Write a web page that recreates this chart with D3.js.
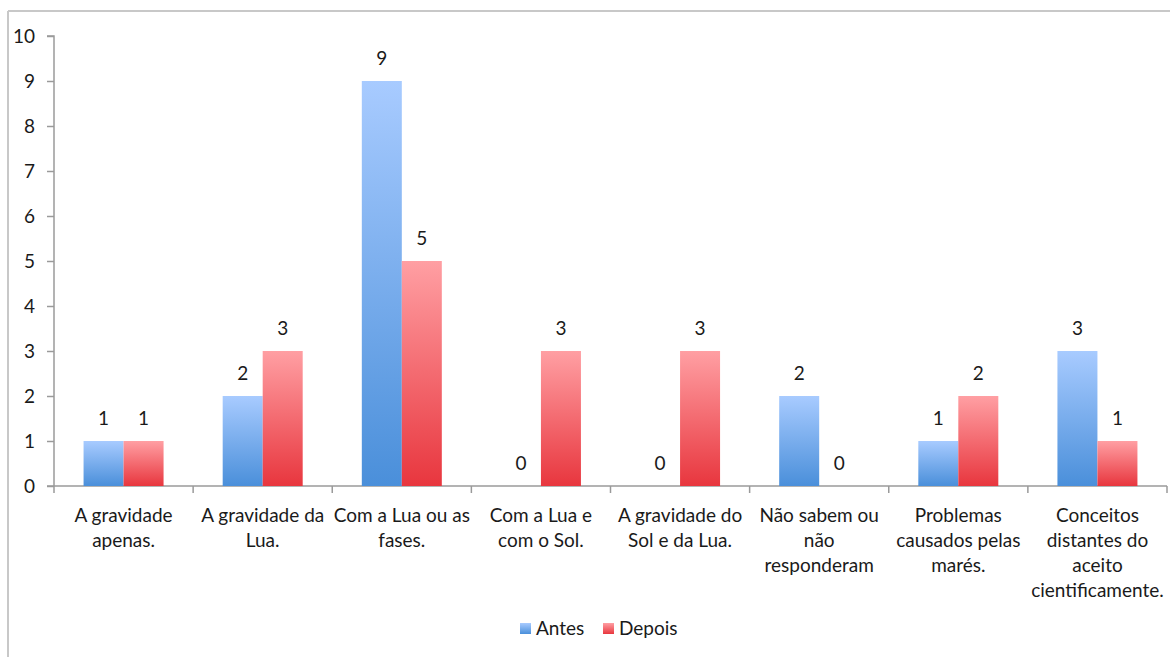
<!DOCTYPE html>
<html><head><meta charset="utf-8">
<script src="https://cdn.jsdelivr.net/npm/d3@7"></script>
<style>body{margin:0;background:#fff;} svg{display:block;font-family:Lato,"Open Sans",sans-serif;}</style>
</head><body>
<svg id="c" width="1170" height="657"></svg>
<script>
const categories = [
  "A gravidade|apenas.",
  "A gravidade da|Lua.",
  "Com a Lua ou as|fases.",
  "Com a Lua e|com o Sol.",
  "A gravidade do|Sol e da Lua.",
  "Não sabem ou|não|responderam",
  "Problemas|causados pelas|marés.",
  "Conceitos|distantes do|aceito|cientificamente."
];
const seriesNames = ["Antes", "Depois"];
const antes = [1, 2, 9, 0, 0, 2, 1, 3];
const depois = [1, 3, 5, 3, 3, 0, 2, 1];
const yTicks = [0,1,2,3,4,5,6,7,8,9,10];

(function(){
const FS = "19px";
const svg = d3.select("#c");
const defs = svg.append("defs");
const grads = [
  {id:"gA", top:"#a8cbff", bot:"#4a8fda"},
  {id:"gD", top:"#ff9fa3", bot:"#e8363e"}
];
grads.forEach(g=>{
  const lg = defs.append("linearGradient").attr("id",g.id).attr("x1",0).attr("y1",0).attr("x2",0).attr("y2",1);
  lg.append("stop").attr("offset","0%").attr("stop-color",g.top);
  lg.append("stop").attr("offset","100%").attr("stop-color",g.bot);
});
const fills = ["url(#gA)","url(#gD)"];

// outer frame (top and left edges)
svg.append("line").attr("x1",8).attr("x2",1170).attr("y1",11).attr("y2",11).attr("stroke","#c8c8c8").attr("stroke-width",2);
svg.append("line").attr("x1",8).attr("x2",8).attr("y1",11).attr("y2",657).attr("stroke","#c8c8c8").attr("stroke-width",2);

const pL = 54, pR = 1167, pT = 36, pB = 486;
const x0 = d3.scaleBand().domain(d3.range(categories.length)).range([pL,pR]).padding(0);
const x1 = d3.scaleBand().domain(seriesNames).range([x0.bandwidth()/2-40, x0.bandwidth()/2+40]).padding(0);
const y = d3.scaleLinear().domain([0,10]).range([pB,pT]);

// y axis
const yAxis = d3.axisLeft(y).tickValues(yTicks).tickSize(7).tickPadding(12).tickFormat(d3.format("d"));
const gy = svg.append("g").attr("transform",`translate(${pL},0)`).call(yAxis);
gy.select(".domain").attr("stroke","#9a9a9a").attr("stroke-width",1.5).attr("d",`M-7,${pT}H0V${pB}`);
gy.selectAll(".tick line").attr("stroke","#9a9a9a").attr("stroke-width",1.5);
gy.selectAll(".tick text").attr("fill","#1a1a1a").style("font-size",FS).style("font-family","Lato,'Open Sans',sans-serif");

// x axis
svg.append("line").attr("x1",pL-7).attr("x2",pR).attr("y1",pB).attr("y2",pB).attr("stroke","#9a9a9a").attr("stroke-width",1.5);
const bounds = d3.range(categories.length+1).map(i => i<categories.length ? x0(i) : pR);
svg.selectAll(".xt").data(bounds).enter().append("line")
  .attr("x1",d=>d).attr("x2",d=>d).attr("y1",pB).attr("y2",pB+7)
  .attr("stroke","#9a9a9a").attr("stroke-width",1.5);

// bars
const data = categories.map((c,i)=>({i, vals:[antes[i], depois[i]]}));
const groups = svg.selectAll(".grp").data(data).enter().append("g").attr("transform",d=>`translate(${x0(d.i)},0)`);
groups.selectAll("rect").data(d=>d.vals.map((v,k)=>({v,k}))).enter().append("rect")
  .attr("x",d=>x1(seriesNames[d.k])).attr("width",x1.bandwidth())
  .attr("y",d=>y(d.v)).attr("height",d=>pB-y(d.v))
  .attr("fill",d=>fills[d.k]);
groups.selectAll("text.v").data(d=>d.vals.map((v,k)=>({v,k}))).enter().append("text")
  .attr("class","v")
  .attr("x",d=>x1(seriesNames[d.k])+x1.bandwidth()/2)
  .attr("y",d=>y(d.v)-16)
  .attr("text-anchor","middle").attr("fill","#1a1a1a").style("font-size",FS)
  .text(d=>d.v);

// category labels
const cl = svg.selectAll(".cl").data(categories).enter().append("text")
  .attr("text-anchor","middle").attr("fill","#1a1a1a").style("font-size",FS)
  .attr("transform",(d,i)=>`translate(${x0(i)+x0.bandwidth()/2},522)`);
cl.selectAll("tspan").data(d=>d.split("|")).enter().append("tspan")
  .attr("x",0).attr("y",(d,j)=>j*25).text(d=>d);

// legend
const lg = svg.append("g").attr("transform","translate(520,622)");
const items = [{n:"Antes",x:0,f:fills[0]},{n:"Depois",x:83,f:fills[1]}];
items.forEach(it=>{
  lg.append("rect").attr("x",it.x).attr("y",1).attr("width",11).attr("height",11).attr("fill",it.f);
  lg.append("text").attr("x",it.x+16).attr("y",13).attr("fill","#1a1a1a").style("font-size",FS).text(it.n);
});
})();
</script>
</body></html>
